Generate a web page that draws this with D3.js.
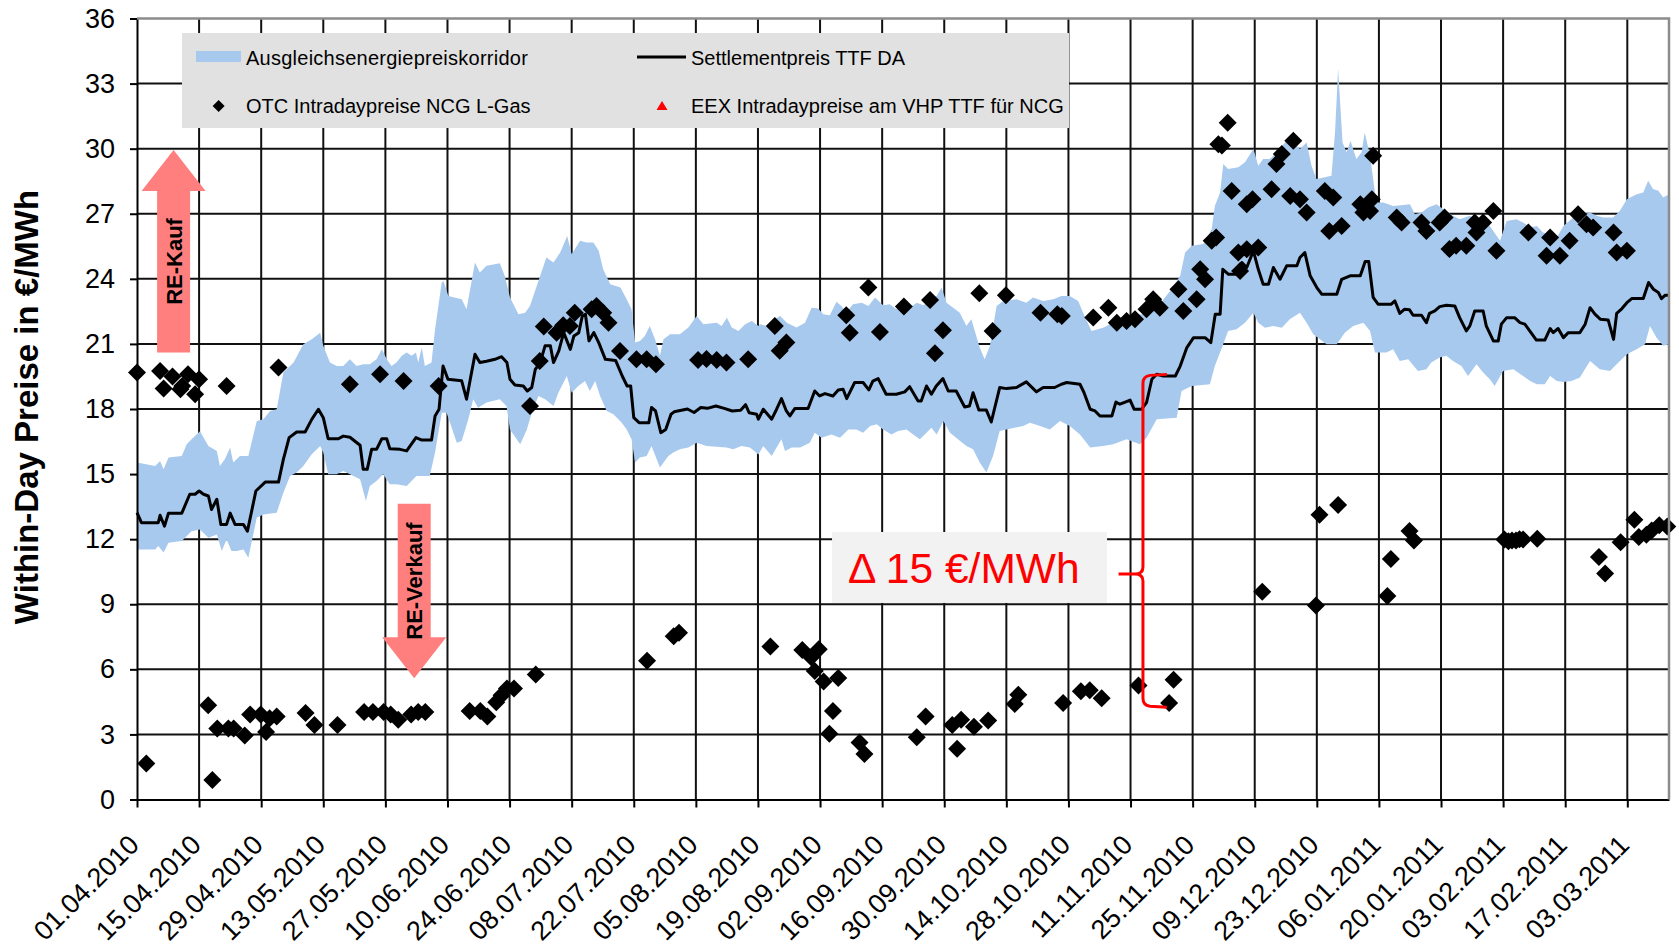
<!DOCTYPE html>
<html><head><meta charset="utf-8">
<script src="https://cdn.jsdelivr.net/npm/d3@7"></script>
<style>
html,body{margin:0;padding:0;background:#fff;}
svg{display:block;font-family:"Liberation Sans",Arial,sans-serif;}
</style></head><body>
<svg id="chart" width="1679" height="946"></svg>
<script>
// ---------- DATA (day = days since 01.04.2010) ----------
const xTickLabels = ["01.04.2010","15.04.2010","29.04.2010","13.05.2010","27.05.2010","10.06.2010","24.06.2010","08.07.2010","22.07.2010","05.08.2010","19.08.2010","02.09.2010","16.09.2010","30.09.2010","14.10.2010","28.10.2010","11.11.2010","25.11.2010","09.12.2010","23.12.2010","06.01.2011","20.01.2011","03.02.2011","17.02.2011","03.03.2011"];
const yTicks = [0,3,6,9,12,15,18,21,24,27,30,33,36];

const seriesNames = ["Ausgleichsenergiepreiskorridor","Settlementpreis TTF DA","OTC Intradaypreise NCG L-Gas","EEX Intradaypreise am VHP TTF für NCG"];

const ttfSettlement = [[0,13.22],[1,12.76],[4.8,12.76],[5.2,13.1],[6.2,12.6],[7.1,13.2],[10.1,13.2],[11.9,14.07],[13.1,14.07],[14,14.22],[15,14.07],[16.1,13.99],[16.8,13.37],[18,13.84],[18.9,12.68],[20.2,12.68],[21,13.2],[22.1,12.68],[24,12.68],[24.9,12.37],[26.8,14.22],[28.9,14.63],[31.9,14.63],[33,15.68],[34.3,16.68],[36,16.94],[37.9,16.94],[39.4,17.52],[40.9,17.99],[42,17.6],[43.1,16.63],[45.4,16.63],[46.5,16.75],[48,16.7],[50.3,16.33],[51,15.22],[51.9,15.22],[52.9,16.14],[54,16.14],[55.2,16.63],[56.3,16.63],[57,16.17],[59.3,16.14],[60.8,16.07],[62.9,16.68],[64.2,16.57],[66.4,16.57],[67.2,17.68],[68.1,17.99],[69,19.98],[70.1,19.37],[73.2,19.3],[74.3,18.45],[76.2,20.52],[77.3,20.14],[78.8,20.2],[80.7,20.29],[82.2,20.41],[83.4,20.14],[84.1,19.37],[85.2,19.11],[87.1,19.06],[88,18.83],[89,18.99],[89.8,19.83],[90.9,20.14],[92,20.91],[93.2,20.91],[93.9,20.14],[95.1,20.68],[96.2,21.52],[97.7,20.75],[98.5,21.37],[99.6,21.52],[100.4,22.29],[101.1,22.37],[101.9,21.14],[103,21.52],[104.1,21.06],[105.6,20.29],[107.9,20.24],[109.4,19.52],[110.5,19.06],[111.3,19.06],[112,17.6],[113.2,17.37],[115.4,17.37],[116,18.07],[116.9,17.91],[118.1,16.91],[119.2,17.06],[120.4,17.76],[121.1,17.87],[124.1,18.0],[125.6,17.84],[127.1,18.07],[128.6,18.03],[130.5,18.14],[132.4,18.03],[134.2,17.91],[136.1,17.94],[137.2,18.2],[138,17.83],[139.7,17.76],[140.1,17.53],[141.2,17.99],[143.1,17.53],[144.2,17.99],[145.3,18.48],[146.4,17.91],[147.2,17.68],[148.3,18.02],[151.3,18.02],[152.8,18.83],[153.9,18.6],[155.1,18.71],[156.9,18.6],[158.1,18.88],[159.2,18.91],[160,18.48],[161.8,19.22],[163.7,19.22],[165,18.88],[165.9,19.29],[167.1,19.4],[168.9,18.68],[171.2,18.68],[173.1,18.79],[174.2,19.03],[176.1,18.37],[176.8,18.37],[178,19.06],[179.1,18.68],[180.2,19.06],[181.7,19.4],[182.9,18.83],[184.7,18.83],[186.6,18.09],[187.7,18.14],[188.5,18.75],[189.8,17.95],[191.5,17.95],[192.6,17.4],[194.5,18.99],[196,18.94],[198.3,18.99],[200.5,19.25],[202.8,18.79],[204.3,18.99],[206.9,18.99],[208.4,19.14],[209.6,19.22],[212.6,19.14],[213.5,18.76],[214.9,17.99],[216,17.91],[217.1,17.68],[219.8,17.68],[220.7,18.32],[221.6,18.22],[222.8,18.32],[223.9,18.41],[224.8,17.99],[226.5,17.99],[227.6,18.29],[228.8,19.37],[229.9,19.6],[231.4,19.52],[234.1,19.52],[235.2,19.98],[236.7,20.83],[238.2,21.29],[240.8,21.29],[242.1,21.06],[243.1,22.37],[244.2,22.37],[244.8,24.44],[246.1,24.21],[247.6,24.21],[249.1,24.75],[250.2,24.52],[251.7,25.29],[252.8,24.44],[253.9,23.75],[255.1,23.75],[256.2,24.52],[257.7,23.98],[259.2,24.6],[261.5,24.6],[262.2,24.98],[263.3,25.21],[264.5,24.14],[266,23.6],[267.1,23.29],[270.5,23.29],[271.6,23.98],[273.5,24.14],[275.8,24.14],[276.9,24.8],[277.7,24.8],[278.7,23.14],[279.8,22.83],[282.8,22.83],[283.6,22.98],[284.7,22.41],[285.8,22.6],[286.9,22.57],[287.7,22.32],[289.6,22.32],[290.7,21.98],[291.4,22.41],[292.6,22.52],[293.7,22.72],[295.2,22.78],[297.1,22.75],[298.2,22.21],[299.7,21.6],[300.5,21.83],[301.6,22.52],[303.5,22.52],[304.2,21.83],[305.8,21.14],[306.9,21.14],[307.6,21.91],[308.8,22.21],[310.6,22.21],[311.8,21.98],[312.9,21.91],[314,21.6],[315.5,21.18],[317.4,21.18],[318.6,21.71],[319.3,21.52],[320.4,21.71],[321.6,21.29],[322.7,21.52],[325.3,21.52],[326.5,21.91],[327.6,22.67],[328.7,22.37],[329.9,22.14],[331.7,22.1],[332.9,21.21],[333.6,22.41],[334.8,22.63],[335.9,22.9],[337,23.09],[339.6,23.09],[340.8,23.83],[341.9,23.52],[343,23.37],[343.7,23.09],[344.5,23.24],[345.4,23.24]];

const corridorUpper = [[0,15.53],[4.1,15.37],[5.2,15.6],[6,15.22],[7.1,15.76],[10.1,15.83],[11.2,16.37],[12.3,16.6],[14.2,16.98],[16.1,16.29],[18,16.06],[18.7,15.37],[19.8,15.68],[21,16.22],[21.7,15.53],[23.2,15.83],[25.1,15.83],[27,17.45],[28.5,17.53],[30,17.91],[31.5,17.99],[33,19.68],[35.3,20.14],[37.5,20.98],[39.4,21.22],[41.3,21.52],[42,20.91],[43.5,20.14],[45,19.98],[46.5,19.98],[48,20.29],[49.5,19.98],[51,20.06],[52.5,20.06],[54,20.29],[55.2,20.75],[56.3,20.29],[57.4,19.98],[58.5,20.14],[59.7,20.45],[60.8,20.6],[61.9,20.45],[62.9,20.6],[63.4,20.14],[64.2,20.83],[64.9,19.98],[66.4,20.14],[67.2,21.68],[68.7,23.83],[69.1,23.9],[70.2,23.21],[73.2,23.06],[74.3,22.6],[76.2,24.75],[77.3,24.29],[78.8,24.6],[81.8,24.72],[82.9,24.14],[84.1,23.14],[86,22.37],[87.5,22.44],[88.6,22.75],[90.5,23.9],[92.3,24.98],[93.9,24.75],[95.4,25.21],[97,25.98],[98,25.13],[99.9,25.75],[101.4,25.67],[102.9,25.67],[104.1,25.29],[105.1,24.44],[106.7,23.75],[109,23.6],[110.4,23.06],[111.5,22.6],[112.3,21.06],[113.4,21.14],[114.5,21.37],[115.6,21.83],[116.8,21.22],[117.9,20.45],[118.7,21.22],[120.2,21.45],[122.4,21.45],[124.3,21.76],[126.2,22.29],[127.7,21.91],[130.7,21.98],[131.8,21.83],[133,22.21],[134.1,21.76],[135.6,21.6],[137.1,21.91],[138.6,22.06],[140.1,21.83],[140.5,21.91],[142,21.83],[143.1,22.06],[145,22.29],[146.5,21.98],[148.7,21.76],[150.6,21.98],[152.1,22.67],[153.6,22.63],[154.7,22.37],[156.2,22.32],[157.7,22.94],[158.8,22.75],[159.9,22.44],[161.4,22.83],[163.4,22.9],[164.9,22.75],[166.4,23.14],[168.2,22.78],[169.7,22.83],[171.2,22.6],[172.7,22.9],[174.2,22.67],[175.8,22.9],[177.3,22.78],[178.8,23.06],[180.3,23.21],[181.4,23.6],[182.5,22.9],[184,22.67],[185.5,22.44],[187,21.83],[188.1,22.14],[190,20.83],[191.1,20.29],[192.3,20.91],[193.8,22.75],[195.3,22.98],[198.3,23.06],[200.5,22.9],[202,23.14],[204.3,22.98],[206.6,23.06],[208.4,23.21],[210.3,23.21],[212.2,22.98],[213.3,22.44],[215.2,21.6],[217.8,21.75],[220.1,21.98],[223.1,21.98],[225.4,22.37],[228.4,22.37],[230.6,22.83],[232.9,23.44],[235.2,24.14],[236.3,25.21],[237.8,25.52],[240.4,25.6],[242.3,26.29],[243,27.36],[244.2,27.98],[244.9,29.29],[246,29.06],[248.3,29.14],[249.8,29.37],[251.7,29.98],[252.8,29.21],[253.9,29.52],[255.4,29.52],[256.9,29.83],[259.2,30.37],[260.7,30.29],[262.2,29.98],[263.7,30.29],[264.8,29.21],[265.9,28.6],[267.5,28.67],[269.3,28.75],[270.1,30.75],[270.8,33.67],[271.8,30.29],[272.7,29.83],[273.6,30.37],[274.9,29.52],[276.1,29.83],[276.8,30.75],[278,29.67],[279.1,27.98],[279.5,27.52],[281,27.52],[283.2,27.36],[285.5,27.4],[287,27.44],[288.1,26.98],[289.6,27.06],[291.1,27.29],[293,27.44],[294.5,27.21],[296.7,26.91],[298.2,26.75],[300.5,26.91],[302.4,26.6],[303.9,26.83],[305,26.44],[307.3,25.75],[308.8,26.67],[311,26.75],[312.5,26.6],[314.1,26.37],[315.6,26.44],[317,26.14],[318.6,26.06],[320.1,25.9],[321.6,26.44],[323.8,26.83],[325.3,26.91],[327.6,27.06],[329.1,26.91],[330.6,26.83],[332.8,26.83],[334.3,27.13],[335.9,27.67],[338.1,27.9],[339.6,27.98],[340.7,28.52],[341.8,28.14],[343,28.06],[344.1,27.75],[345.4,27.9]];

const corridorLower = [[0,11.52],[4.1,11.52],[4.8,11.68],[6,11.38],[7.1,11.84],[10.1,11.91],[12.3,12.37],[14.2,12.45],[16.1,12.07],[18,12.22],[19.1,11.45],[20.2,11.99],[21.3,11.45],[22.5,11.45],[24,11.52],[25.1,11.14],[27,12.99],[28.5,13.14],[31.5,13.22],[33,14.14],[34.5,14.91],[36,15.07],[37.5,15.37],[39.4,15.91],[41.3,16.29],[42,15.99],[43.1,14.99],[45,14.99],[46.5,15.14],[48,14.99],[50.3,14.76],[51.6,13.76],[52.5,14.45],[54,14.68],[55.5,14.99],[57,14.53],[58.5,14.53],[60.8,14.45],[63,14.91],[66,14.91],[67.2,15.99],[68.7,17.83],[69.8,17.83],[72.1,16.45],[73.2,16.52],[74.7,17.53],[75.8,18.45],[76.9,18.06],[78.8,18.3],[81.8,18.45],[83.3,18.14],[84.1,17.06],[86.4,16.37],[87.9,17.06],[89,17.83],[90.5,18.6],[92,18.45],[93.9,18.14],[95,18.75],[96.9,19.52],[98,18.75],[99.5,19.06],[101,19.29],[102.1,18.83],[103.3,19.29],[104.4,18.6],[105.9,17.91],[107.4,17.76],[109.3,17.37],[110.4,17.06],[111.5,16.6],[112.3,15.53],[113.4,15.76],[114.9,15.83],[116,16.29],[117.9,15.3],[119.8,15.83],[120.9,15.99],[122.4,16.14],[124.3,16.22],[126.2,16.45],[128.4,16.29],[130.7,16.26],[132.9,16.22],[134.4,16.14],[136.3,16.29],[138.2,16.22],[140.1,15.9],[141.2,16.29],[143.1,15.83],[144.2,16.22],[145.3,16.6],[146.1,16.06],[147.6,16.22],[149.5,16.22],[151.7,16.45],[152.8,16.91],[154.3,16.68],[156.6,16.83],[158.5,16.68],[160.4,17.06],[162.2,17.06],[163.7,16.91],[165.3,17.22],[166.8,17.3],[168.2,17.06],[170.1,16.83],[171.6,16.99],[173.5,17.06],[175,16.83],[176.5,16.6],[178,16.91],[179.1,17.14],[180.3,16.83],[181.8,17.45],[183.3,16.91],[185.1,16.6],[187,16.29],[188.5,16.14],[190,15.53],[191.5,15.07],[193,15.83],[194.5,16.99],[196,17.06],[199.8,17.22],[201.3,17.37],[203.6,17.22],[205.8,17.06],[208.1,17.45],[210.3,17.22],[212.6,16.83],[214.9,16.22],[217.8,16.29],[220.1,16.37],[223.1,16.6],[226.1,16.37],[227.6,16.68],[229.9,17.53],[234.4,17.6],[235.5,18.83],[237.8,19.06],[241.9,19.14],[243,19.98],[244.9,20.98],[246,21.6],[247.9,21.68],[249.8,21.98],[251.7,22.44],[252.8,21.98],[254.3,21.75],[256.2,21.83],[258.1,21.75],[259.9,22.14],[262.2,22.44],[263.7,21.98],[265.2,21.45],[268.2,20.98],[270.5,20.98],[272.3,21.52],[274.2,21.83],[276.5,21.98],[278,21.6],[279.1,20.6],[281.7,20.6],[283.2,20.75],[284.7,20.21],[286.6,20.29],[288.8,19.75],[290.7,19.83],[291.8,20.14],[293.7,20.37],[295.2,20.45],[296.7,20.21],[298.6,19.98],[300.1,19.52],[302,20.06],[303.5,19.68],[305,19.37],[306.1,19.06],[308,19.75],[310.3,19.83],[312.5,19.52],[314.1,19.29],[315.6,19.14],[317.4,19.14],[318.6,19.52],[320.1,19.29],[321.6,19.25],[323.4,19.29],[325.3,19.45],[327.6,20.21],[329.8,19.83],[332.1,19.75],[334,20.14],[335.9,20.52],[338.1,20.75],[340,20.98],[341.1,21.83],[342.6,21.29],[344.1,20.91],[345.4,20.98]];

const otcIntraday = [[0,19.68],[5.2,19.75],[6,18.95],[8,19.5],[9.8,18.91],[10.2,19.06],[11.5,19.6],[13.1,18.68],[14,19.37],[20.2,19.06],[31.9,19.91],[48,19.14],[54.8,19.6],[60.1,19.29],[68,19.06],[88.6,18.14],[90.8,20.21],[91.7,21.8],[94.6,21.52],[96.1,21.86],[97.6,21.83],[98.7,22.44],[102.5,22.6],[103.6,22.75],[105.1,22.44],[106.3,21.98],[108.9,20.67],[112.6,20.29],[114.9,20.29],[117,20.06],[126.5,20.26],[128.4,20.3],[130.7,20.26],[132.9,20.14],[137.8,20.29],[143.8,21.83],[144.9,20.68],[146.4,21.06],[159.9,22.32],[160.7,21.52],[164.9,23.6],[167.5,21.55],[172.9,22.72],[178.8,23.03],[179.9,20.57],[181.7,21.63],[189.9,23.34],[192.9,21.6],[195.9,23.24],[203.7,22.44],[207.5,22.37],[208.5,22.29],[215.6,22.22],[219,22.67],[220.9,21.98],[223.1,22.06],[225,22.14],[227.6,22.6],[229.1,23.06],[230.6,22.67],[234.8,23.52],[235.9,22.52],[238.9,23.06],[239.7,24.44],[240.8,23.98],[242.3,25.75],[243.3,25.9],[243.8,30.2],[244.6,30.15],[245.9,31.2],[246.8,28.05],[248.3,25.21],[248.7,24.36],[250.2,25.36],[250.2,27.44],[251.5,27.67],[252.8,25.44],[255.8,28.13],[256.9,29.29],[258.1,29.75],[260,27.82],[260.7,30.36],[262.2,27.67],[263.7,27.06],[267.8,28.05],[268.8,26.21],[269.7,27.75],[271.6,26.44],[275.8,27.44],[276.5,27.06],[278,27.13],[278.4,27.67],[278.7,29.67],[284,26.83],[285.1,26.6],[289.6,26.6],[290.7,26.21],[293.7,26.6],[294.8,26.83],[295.9,25.37],[297.4,25.52],[299.7,25.52],[301.6,26.6],[302,26.14],[303.5,26.6],[305.8,27.13],[306.5,25.29],[313.7,26.14],[317.8,25.06],[318.6,25.9],[320.8,25.06],[323,25.75],[324.9,26.98],[326.8,26.52],[328.3,26.37],[332.9,26.14],[333.6,25.21],[335.9,25.29],
[2.1,1.66],[16.05,4.35],[17,0.9],[18.1,3.27],[20.6,3.27],[21.8,3.27],[24.3,2.95],[25.5,3.92],[27.9,3.92],[29.1,3.11],[29.9,3.75],[31.5,3.83],[38,3.99],[40,3.43],[45.2,3.43],[51.2,4.03],[53.2,4.03],[55.6,4.03],[57.2,3.92],[58.9,3.68],[61.8,3.92],[63.4,4.03],[65,4.03],[75,4.08],[77.4,4.08],[79,3.83],[81,4.48],[82.2,4.8],[83.4,5.12],[85,5.12],[89.9,5.76],[115,6.4],[121,7.53],[122.2,7.69],[142.8,7.05],[150,6.89],[152,6.56],[153.7,6.92],[152.8,5.92],[154.8,5.44],[158.1,5.6],[156.9,4.08],[156.1,3.03],[162.9,2.63],[164,2.1],[175.8,2.87],[177.8,3.83],[183.8,3.43],[184.9,2.34],[185.8,3.68],[188.7,3.35],[191.9,3.64],[197.9,4.4],[198.7,4.83],[208.8,4.45],[212.8,4.99],[214.8,5.04],[217.5,4.67],[225.8,5.25],[233.7,5.52],[232.7,4.45],[253.7,9.58],[266.6,13.12],[265.8,8.94],[270.8,13.58],[281.9,9.38],[282.7,11.09],[286.9,12.38],[287.9,11.94],[308.3,11.99],[309.2,11.9],[310,11.94],[310.9,11.94],[311.7,12],[312.5,11.99],[315.7,12.02],[329.6,11.18],[331,10.42],[334.5,11.86],[337.6,12.9],[338.6,12.1],[340.3,12.2],[341.5,12.4],[343.2,12.64],[345,12.58]];

// annotations (day, value)
const kaufArrow = {day: 8.25, from: 20.6, to: 29.94, label: "RE-Kauf", labelAt: 24.8};
const verkaufArrow = {day: 62.5, from: 13.63, to: 5.59, label: "RE-Verkauf", labelAt: 10.07};
const deltaNote = {text: "Δ 15 €/MWh", day0: 156.7, day1: 218.7, v0: 9.06, v1: 12.33, textDay: 160.3, textV: 10.0};
const bracketNote = {day: 226.8, top: 19.55, bottom: 4.3, tip: 10.39, hookDay: 232.2, tipDay: 221.3};

// ---------- RENDER ----------
(function () {
const W = 1679, H = 946;
const bandColor = "#a8c9ee";
const svg = d3.select("#chart");
svg.append("rect").attr("width", W).attr("height", H).attr("fill", "#fff");

const start = Date.UTC(2010, 3, 1);
const dayToDate = d => new Date(start + d * 864e5);
const parseTick = d3.utcParse("%d.%m.%Y");
const x = d3.scaleUtc().domain([dayToDate(0), dayToDate(345.4)]).range([137, 1669]);
const y = d3.scaleLinear().domain([0, 36]).range([799.5, 18.5]);
const X = d => x(dayToDate(d));
const [pLeft, pRight] = x.range();
const [pBottom, pTop] = y.range();
const tickDates = xTickLabels.map(parseTick);

// gridlines
const grid = svg.append("g");
grid.selectAll("line.h").data(yTicks.filter(v => v > 0 && v < 36)).join("line")
  .attr("x1", pLeft).attr("x2", pRight).attr("y1", d => y(d)).attr("y2", d => y(d))
  .attr("stroke", "#111").attr("stroke-width", 2);
grid.selectAll("line.v").data(tickDates.slice(1)).join("line")
  .attr("x1", d => x(d)).attr("x2", d => x(d)).attr("y1", pTop).attr("y2", pBottom)
  .attr("stroke", "#111").attr("stroke-width", 2);

// corridor band
const poly = corridorUpper.concat(corridorLower.slice().reverse());
svg.append("path")
  .attr("d", d3.line().x(d => X(d[0])).y(d => y(d[1]))(poly) + "Z")
  .attr("fill", bandColor);

// settlement line
svg.append("path")
  .attr("d", d3.line().x(d => X(d[0])).y(d => y(d[1]))(ttfSettlement))
  .attr("fill", "none").attr("stroke", "#000").attr("stroke-width", 3)
  .attr("stroke-linejoin", "round");

// OTC diamonds
const diamond = r => `M0,${-r}L${r},0L0,${r}L${-r},0Z`;
svg.append("g").selectAll("path").data(otcIntraday).join("path")
  .attr("d", diamond(9)).attr("fill", "#000")
  .attr("transform", d => `translate(${X(d[0])},${y(d[1])})`);

// axes
const yAxis = svg.append("g").attr("transform", `translate(${pLeft},0)`)
  .call(d3.axisLeft(y).tickValues(yTicks).tickSize(7).tickSizeOuter(0).tickPadding(15));
yAxis.selectAll("line").attr("stroke", "#000").attr("stroke-width", 2);
yAxis.select(".domain").attr("stroke", "#000").attr("stroke-width", 2);
yAxis.selectAll("text").attr("font-size", 27).attr("fill", "#000")
  .attr("font-family", "Liberation Sans, Arial, sans-serif");

const xAxis = svg.append("g").attr("transform", `translate(0,${pBottom})`)
  .call(d3.axisBottom(x).tickValues(tickDates).tickFormat(d3.utcFormat("%d.%m.%Y")).tickSize(8).tickSizeOuter(0));
xAxis.selectAll("line").attr("stroke", "#000").attr("stroke-width", 2);
xAxis.select(".domain").attr("stroke", "#000").attr("stroke-width", 2);
xAxis.selectAll("text").attr("font-size", 27).attr("fill", "#000")
  .attr("font-family", "Liberation Sans, Arial, sans-serif")
  .attr("x", 3).attr("y", 47).attr("dy", null).attr("text-anchor", "end")
  .attr("transform", "rotate(-45,3,47)");

// top / right border (gray)
svg.append("path").attr("d", `M${pLeft},${pTop}H${pRight}V${pBottom}`)
  .attr("fill", "none").attr("stroke", "#8c8c8c").attr("stroke-width", 2.5);

// y-axis title
svg.append("text").attr("transform", "translate(38,407) rotate(-90)")
  .attr("text-anchor", "middle").attr("font-size", 33).attr("font-weight", "bold")
  .text("Within-Day Preise in €/MWh");

// legend
const lg = svg.append("g").attr("font-size", 20).attr("fill", "#000");
lg.append("rect").attr("x", 182).attr("y", 33).attr("width", 887).attr("height", 95).attr("fill", "#e1e1e1");
lg.append("rect").attr("x", 196).attr("y", 51).attr("width", 45).attr("height", 11).attr("fill", bandColor);
lg.append("text").attr("x", 246).attr("y", 65).attr("letter-spacing", 0.25).text(seriesNames[0]);
lg.append("line").attr("x1", 637).attr("x2", 686).attr("y1", 57).attr("y2", 57).attr("stroke", "#000").attr("stroke-width", 3);
lg.append("text").attr("x", 691).attr("y", 65).text(seriesNames[1]);
lg.append("path").attr("d", diamond(6)).attr("transform", "translate(218.6,106)").attr("fill", "#000");
lg.append("text").attr("x", 246).attr("y", 113).text(seriesNames[2]);
lg.append("path").attr("d", "M0,-5L5.5,4L-5.5,4Z").attr("transform", "translate(662,106)").attr("fill", "#ff0000");
lg.append("text").attr("x", 691).attr("y", 113).text(seriesNames[3]);

// arrows
function arrow(a) {
  const cx = X(a.day), y0 = y(a.from), y1 = y(a.to);
  const dir = y1 < y0 ? -1 : 1;
  const headLen = 41, sw = 16.5, hw = 32;
  const yb = y1 - dir * headLen;
  const d = `M${cx - sw},${y0}L${cx - sw},${yb}L${cx - hw},${yb}L${cx},${y1}L${cx + hw},${yb}L${cx + sw},${yb}L${cx + sw},${y0}Z`;
  svg.append("path").attr("d", d).attr("fill", "#ff7f7f");
  svg.append("text").attr("transform", `translate(${cx + 8},${y(a.labelAt)}) rotate(-90)`)
    .attr("text-anchor", "middle").attr("font-size", 22).attr("font-weight", "bold").text(a.label);
}
arrow(kaufArrow);
arrow(verkaufArrow);

// delta box
svg.append("rect").attr("x", X(deltaNote.day0)).attr("y", y(deltaNote.v1))
  .attr("width", X(deltaNote.day1) - X(deltaNote.day0)).attr("height", y(deltaNote.v0) - y(deltaNote.v1))
  .attr("fill", "#f2f2f2");
svg.append("text").attr("x", X(deltaNote.textDay)).attr("y", y(deltaNote.textV))
  .attr("font-size", 42.5).attr("fill", "#ff0000").text(deltaNote.text);

// bracket
const b = bracketNote;
const xb = X(b.day), yT = y(b.top), yB = y(b.bottom), yM = y(b.tip);
const xr = X(b.hookDay), xl = X(b.tipDay);
const bd = `M${xr},${yT - 1}L${xb + 7},${yT}Q${xb},${yT + 1} ${xb},${yT + 8}` +
          `L${xb},${yM - 7}Q${xb},${yM} ${xb - 8},${yM}L${xl},${yM}` +
          `M${xb - 8},${yM}Q${xb},${yM} ${xb},${yM + 7}` +
          `L${xb},${yB - 8}Q${xb},${yB - 1} ${xb + 7},${yB}L${xr},${yB + 1}`;
svg.append("path").attr("d", bd).attr("fill", "none").attr("stroke", "#ff0000").attr("stroke-width", 3);
})();
</script>
</body></html>
